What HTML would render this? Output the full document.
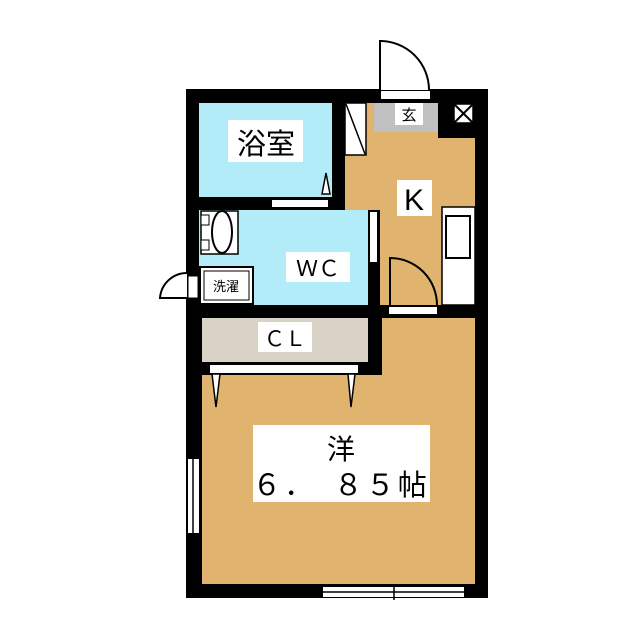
<!DOCTYPE html>
<html><head><meta charset="utf-8"><style>
html,body{margin:0;padding:0;background:#fff;width:640px;height:640px;overflow:hidden}
svg{display:block}
text{font-family:"Liberation Sans","Noto Sans CJK JP",sans-serif;fill:#000}
</style></head><body>
<svg width="640" height="640" viewBox="0 0 640 640" xmlns="http://www.w3.org/2000/svg">
<rect x="186" y="89" width="302" height="509" fill="#000"/>
<rect x="199" y="103" width="133" height="94" fill="#b3ecf9"/>
<rect x="199" y="210" width="169" height="95" fill="#b3ecf9"/>
<rect x="345" y="103" width="130" height="107" fill="#e0b46e"/>
<rect x="380" y="200" width="95" height="105" fill="#e0b46e"/>
<rect x="374" y="103" width="64" height="29" fill="#c0c0c0"/>
<rect x="395" y="103" width="28" height="22" fill="#fff"/>
<text x="409" y="120" font-size="15" text-anchor="middle">玄</text>
<rect x="438" y="103" width="37" height="35" fill="#000"/>
<rect x="454" y="104" width="19" height="19" fill="#fff" stroke="#000" stroke-width="1.5"/>
<path d="M454 104 L473 123 M473 104 L454 123" stroke="#000" stroke-width="2"/>
<rect x="345" y="103" width="21" height="52" fill="#fff" stroke="#000" stroke-width="1.5"/>
<path d="M346 104 L365 154" stroke="#000" stroke-width="1.5"/>
<rect x="381" y="91" width="49" height="8" fill="#fff"/>
<path d="M380 90 L380 41 A49 49 0 0 1 429 90" fill="#fff" stroke="#000" stroke-width="2"/>
<rect x="397" y="180" width="35" height="36" fill="#fff"/>
<text x="414" y="210" font-size="30" text-anchor="middle">K</text>
<rect x="442" y="207" width="33" height="98" fill="#fff" stroke="#000" stroke-width="1.5"/>
<rect x="446" y="216" width="24" height="42" fill="#fff" stroke="#000" stroke-width="2"/>
<path d="M390 305 L390 258 A47 47 0 0 1 437 305" fill="none" stroke="#000" stroke-width="2"/>
<rect x="389" y="307" width="48" height="7" fill="#fff"/>
<rect x="272" y="200" width="56" height="7" fill="#fff"/>
<path d="M322 194 L326 173 L330 194 Z" fill="#fff" stroke="#000" stroke-width="1.5"/>
<rect x="370" y="212" width="7" height="50" fill="#fff"/>
<rect x="228" y="120" width="75" height="42" fill="#fff"/>
<text x="266" y="154" font-size="29" text-anchor="middle">浴室</text>
<rect x="201" y="211" width="37" height="43" fill="#fff" stroke="#000" stroke-width="1.5"/>
<rect x="201" y="215" width="8" height="10" fill="#fff" stroke="#000" stroke-width="1"/>
<rect x="201" y="240" width="8" height="10" fill="#fff" stroke="#000" stroke-width="1"/>
<ellipse cx="222" cy="232" rx="10" ry="21" fill="#fff" stroke="#000" stroke-width="2"/>
<rect x="200" y="267" width="53" height="37" fill="#fff" stroke="#000" stroke-width="2"/>
<rect x="204" y="271" width="45" height="29" fill="#fff" stroke="#000" stroke-width="1"/>
<text x="226" y="291" font-size="13" text-anchor="middle">洗濯</text>
<rect x="188" y="276" width="10" height="22" fill="#fff" stroke="#000" stroke-width="1"/>
<path d="M187 273 A27 27 0 0 0 160 298 L187 298" fill="#fff" stroke="#000" stroke-width="2"/>
<rect x="286" y="252" width="64" height="30" fill="#fff"/>
<text x="318" y="276" font-size="22" text-anchor="middle">ＷＣ</text>
<rect x="202" y="318" width="166" height="44" fill="#d8d3c6"/>
<rect x="258" y="322" width="54" height="30" fill="#fff"/>
<text x="285" y="346" font-size="21" text-anchor="middle">ＣＬ</text>
<rect x="382" y="318" width="93" height="57" fill="#e0b46e"/>
<rect x="202" y="375" width="273" height="209" fill="#e0b46e"/>
<rect x="210" y="365" width="148" height="8" fill="#fff"/>
<path d="M212 374 L216 407 L220 374 Z M348 374 L351 407 L355 374 Z" fill="#fff" stroke="#000" stroke-width="1.5"/>
<rect x="253" y="425" width="177" height="77" fill="#fff"/>
<text x="341" y="459" font-size="28" text-anchor="middle">洋</text>
<text x="341" y="495" font-size="29" text-anchor="middle" letter-spacing="3">６．　８５帖</text>
<rect x="188" y="459" width="11" height="74" fill="#fff"/>
<path d="M193 459 V533" stroke="#000" stroke-width="1.5"/>
<rect x="323" y="587" width="141" height="10" fill="#fff"/>
<path d="M323 592 H464 M394 585 V600" stroke="#000" stroke-width="1.5"/>
</svg>
</body></html>
